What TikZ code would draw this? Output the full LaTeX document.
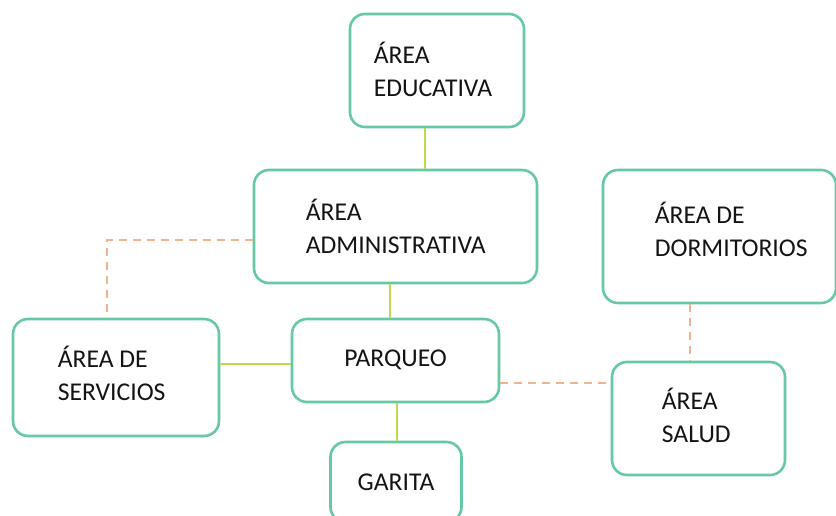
\documentclass[tikz,border=0pt]{standalone}
\usepackage{fontspec}
\setmainfont{Carlito}
\usetikzlibrary{positioning}
\definecolor{boxline}{RGB}{102,200,166}
\definecolor{solidln}{RGB}{192,216,76}
\definecolor{dashln}{RGB}{241,178,146}
\definecolor{ink}{RGB}{20,20,20}

\begin{document}
\begin{tikzpicture}[x=1pt,y=-1pt,
    box/.style={rectangle,rounded corners=15pt,draw=boxline,line width=2.6pt,fill=white,inner sep=0pt},
    txt/.style={inner sep=0pt,align=left,text=ink,font=\fontsize{25.6}{33}\selectfont},
    ln/.style={solidln,line width=2.2pt},
    dl/.style={dashln,line width=2.2pt,dash pattern=on 8pt off 6pt}]
    \clip (0,0) rectangle (836,516);
    \fill[white] (0,0) rectangle (836,516);
    % boxes
    \node[box,minimum width=174pt,minimum height=113pt](edu) at (437,70.5){};
    \node[box,minimum width=283pt,minimum height=113pt](adm) at (395.5,226.5){};
    \node[box,minimum width=233pt,minimum height=133pt](dor) at (719.5,236.5){};
    \node[box,minimum width=206pt,minimum height=117pt](ser) at (116,377.5){};
    \node[box,minimum width=207pt,minimum height=83pt](par) at (395.5,360.5){};
    \node[box,minimum width=173pt,minimum height=113pt](sal) at (698.5,418.5){};
    \node[box,minimum width=131pt,minimum height=80pt](gar) at (396,482){};
    % texts
    \node[txt,right=25pt of edu.west,yshift=1.5pt](edu-t){ÁREA\\EDUCATIVA};
    \node[txt,right=53pt of adm.west](adm-t){ÁREA\\ADMINISTRATIVA};
    \node[txt,right=53pt of dor.west,yshift=7.5pt](dor-t){ÁREA DE\\DORMITORIOS};
    \node[txt,right=46pt of ser.west,yshift=4.5pt](ser-t){ÁREA DE\\SERVICIOS};
    \node[txt,right=51pt of sal.west,yshift=3.5pt](sal-t){ÁREA\\SALUD};
    \node[txt,yshift=1pt](par-t) at (par){PARQUEO};
    \node[txt](gar-t) at (gar){GARITA};
    % connectors
    \draw[ln]([xshift=-12pt]edu.south)--([xshift=-12pt]edu.south |- adm.north);
    \draw[ln]([xshift=-5.5pt]adm.south)--([xshift=-5.5pt]adm.south |- par.north);
    \draw[ln]([xshift=1.5pt]par.south)--([xshift=1.5pt]par.south |- gar.north);
    \draw[ln]([yshift=-3.5pt]par.west)--([yshift=-3.5pt]par.west -| ser.east);
    \draw[dl]([yshift=-13.5pt]adm.west)-|([xshift=-9pt]ser.north);
    \draw[dl]([yshift=-22.5pt]par.east)--([yshift=-22.5pt]par.east -| sal.west);
    \draw[dl]([xshift=-29.5pt]dor.south)--([xshift=-29.5pt]dor.south |- sal.north);
  \end{tikzpicture}
\end{document}
